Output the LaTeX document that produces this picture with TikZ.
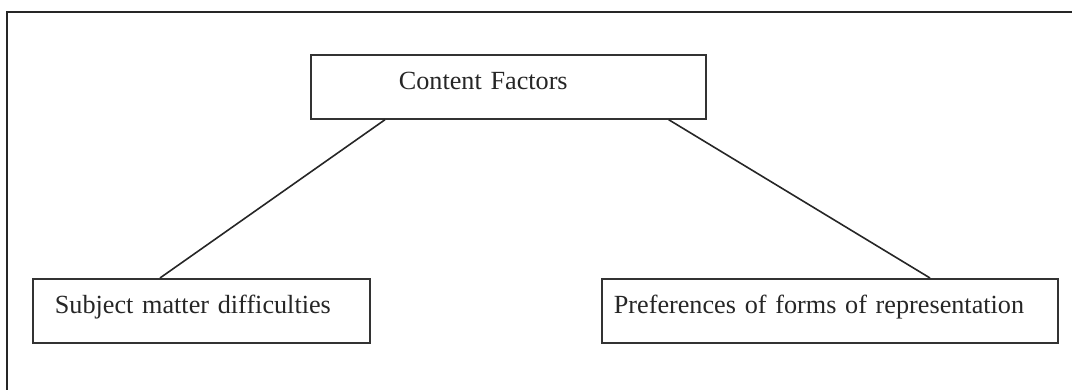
\documentclass[tikz,border=0pt]{standalone}
\usepackage{fontspec}
\setmainfont{Liberation Serif}
\usepackage{tikz}
\usetikzlibrary{positioning}
\tikzstyle{factor} = [rectangle, anchor=north west, draw=black!80, line width=1.7pt, text=black!85, align=left, inner ysep=0pt, text height=35pt, text depth=29pt, font=\fontsize{26.2}{32}\selectfont]
\tikzstyle{link} = [draw=black!85, line width=1.6pt]

\begin{document}
\begin{tikzpicture}[x=1pt, y=-1pt]
    \useasboundingbox (0,0) rectangle (1072,390);
    \draw [link, line width=1.9pt] (7,390) -- (7,12) -- (1072,12);

    \node (content) [factor, inner xsep=88pt, text width=219pt] at (310,54) {Content Factors};
    \node (subject) [factor, inner xsep=22pt, text width=293pt] at (32,278) {Subject matter difficulties};
    \node (forms) [factor, inner xsep=12pt, text width=432pt] at (601,278) {Preferences of forms of representation};

    \draw [link] ([xshift=75pt]content.south west) -- ([xshift=128pt]subject.north west);
    \draw [link] ([xshift=-38pt]content.south east) -- ([xshift=329pt]forms.north west);
\end{tikzpicture}
\end{document}
